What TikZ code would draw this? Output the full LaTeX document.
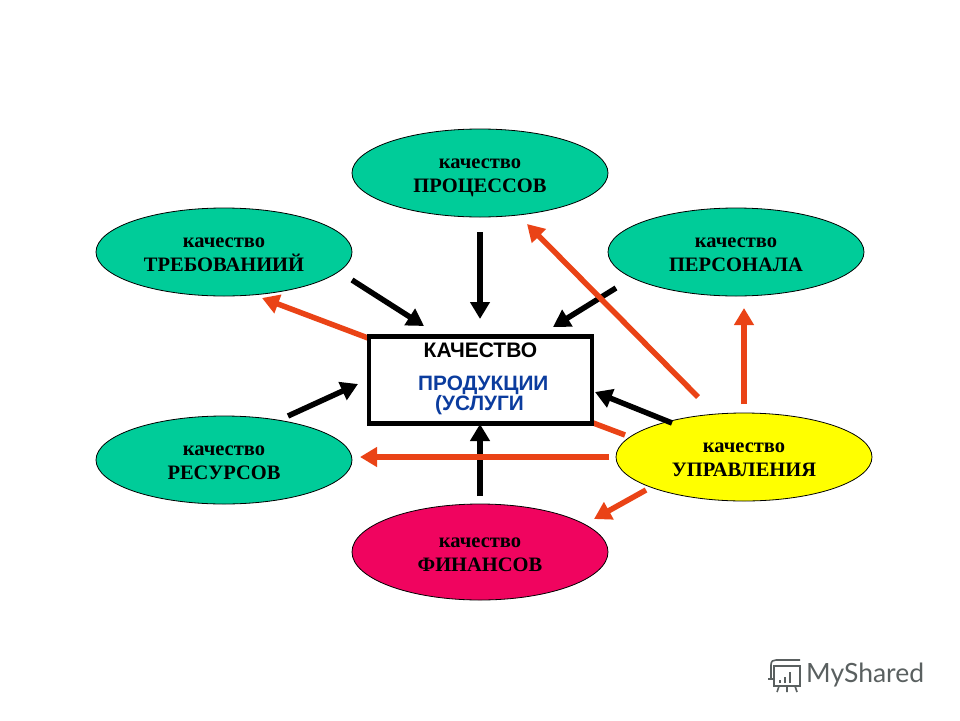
\documentclass[tikz,border=0pt]{standalone}
\usepackage{fontspec}
\setmainfont{Liberation Serif}
\newfontfamily\boxfont{Liberation Sans}
\newfontfamily\logofont{Lato}
\usetikzlibrary{arrows.meta,shapes.geometric}
\definecolor{tealfill}{HTML}{00CC99}
\definecolor{pinkfill}{HTML}{F0045F}
\definecolor{yellowfill}{HTML}{FFFF00}
\definecolor{redline}{HTML}{EA4316}
\definecolor{bluetext}{HTML}{0B3C9E}
\definecolor{logogray}{HTML}{5A6060}
\tikzset{
  oval/.style={shape=ellipse,draw=black,line width=0.8pt,inner sep=0pt,minimum width=256pt,minimum height=88pt,
    text=black,font=\fontsize{22}{24}\selectfont},
  redarrow/.style={draw=redline,line width=5.5pt,-{Triangle[length=17pt,width=19pt]}},
  blackarrow/.style={draw=black,line width=5.5pt,-{Triangle[length=17pt,width=19pt]}},
  logoline/.style={draw=logogray,line width=1.6pt}
}
\newcommand{\ovallabel}[1]{\raisebox{-8pt}[0pt][0pt]{\begin{tabular}[c]{@{}c@{}}\fontsize{20.5}{24}\selectfont\bfseries качество\\{\fontsize{20.5}{24}\selectfont\bfseries #1}\end{tabular}}}
\begin{document}
\begin{tikzpicture}[x=1pt,y=-1pt]
\useasboundingbox (0,0) rectangle (960,720);
\fill[white] (0,0) rectangle (960,720);

% free ends of the connectors
\coordinate (rA1) at (625,435); \coordinate (rA2) at (262,298);
\coordinate (rB1) at (698,397); \coordinate (rB2) at (527,224);
\coordinate (rC1) at (744,404); \coordinate (rC2) at (744,308);
\coordinate (rD1) at (646,490); \coordinate (rD2) at (594,519);
\coordinate (rE1) at (609,457); \coordinate (rE2) at (360,457);
\coordinate (kA1) at (352,280); \coordinate (kA2) at (424,326);
\coordinate (kB1) at (480,232); \coordinate (kB2) at (480,319);
\coordinate (kC1) at (616,288); \coordinate (kC2) at (553,327);
\coordinate (kD1) at (288,416); \coordinate (kD2) at (358,384);
\coordinate (kE1) at (672,423); \coordinate (kE2) at (595,392);
\coordinate (kF1) at (480,496); \coordinate (kF2) at (480,424);

% long line that passes behind the box
\draw[redarrow] (rA1) -- (rA2);

\node[draw=black,fill=white,line width=4.5pt,minimum width=223pt,minimum height=87pt,inner sep=0pt] (box) at (480.5,380) {};
\node[font=\boxfont\bfseries\fontsize{21}{24}\selectfont] (t1) at (480.5,350) {КАЧЕСТВО};
\node[font=\boxfont\bfseries\fontsize{20.8}{20}\selectfont,text=bluetext,align=left,anchor=north west,inner sep=0pt] (t2) at (418,375.5) {ПРОДУКЦИИ\\[0pt]\hspace*{17pt}(УСЛУГИ};

\node[oval,fill=tealfill] (proc) at (480,173) {\ovallabel{ПРОЦЕССОВ}};
\node[oval,fill=tealfill] (treb) at (224,252) {\ovallabel{ТРЕБОВАНИИЙ}};
\node[oval,fill=tealfill] (pers) at (736,252) {\ovallabel{ПЕРСОНАЛА}};
\node[oval,fill=tealfill] (res) at (224,460) {\ovallabel{РЕСУРСОВ}};
\node[oval,fill=pinkfill,minimum height=96pt] (fin) at (480,552) {\ovallabel{ФИНАНСОВ}};
\node[oval,fill=yellowfill] (upr) at (744,457) {\ovallabel{УПРАВЛЕНИЯ}};

\draw[blackarrow] (kA1) -- (kA2);
\draw[blackarrow] (kB1) -- (kB2);
\draw[blackarrow] (kC1) -- (kC2);
\draw[blackarrow] (kD1) -- (kD2);
\draw[blackarrow] (kE1) -- (kE2);
\draw[blackarrow] (kF1) -- (kF2);

\draw[redarrow] (rB1) -- (rB2);
\draw[redarrow] (rC1) -- (rC2);
\draw[redarrow] (rD1) -- (rD2);
\draw[redarrow] (rE1) -- (rE2);

% watermark
\begin{scope}[logoline]
\draw (771,679) -- (771,665) .. controls (771,661) and (773,660) .. (776,660) -- (800,660);
\draw (774,666) rectangle (800,686);
\draw (768,679) -- (774,679);
\draw[line width=2.4pt] (780,683) -- (780,680) (785,683) -- (785,677) (790,683) -- (790,672);
\draw (779,686) -- (777,692) (787,686) -- (787,692) (795,686) -- (797,692);
\end{scope}
\node[font=\logofont\fontsize{26.5}{28}\selectfont,text=logogray,anchor=west,inner sep=0pt] (logo) at (806,675) {MyShared};
\end{tikzpicture}
\end{document}
